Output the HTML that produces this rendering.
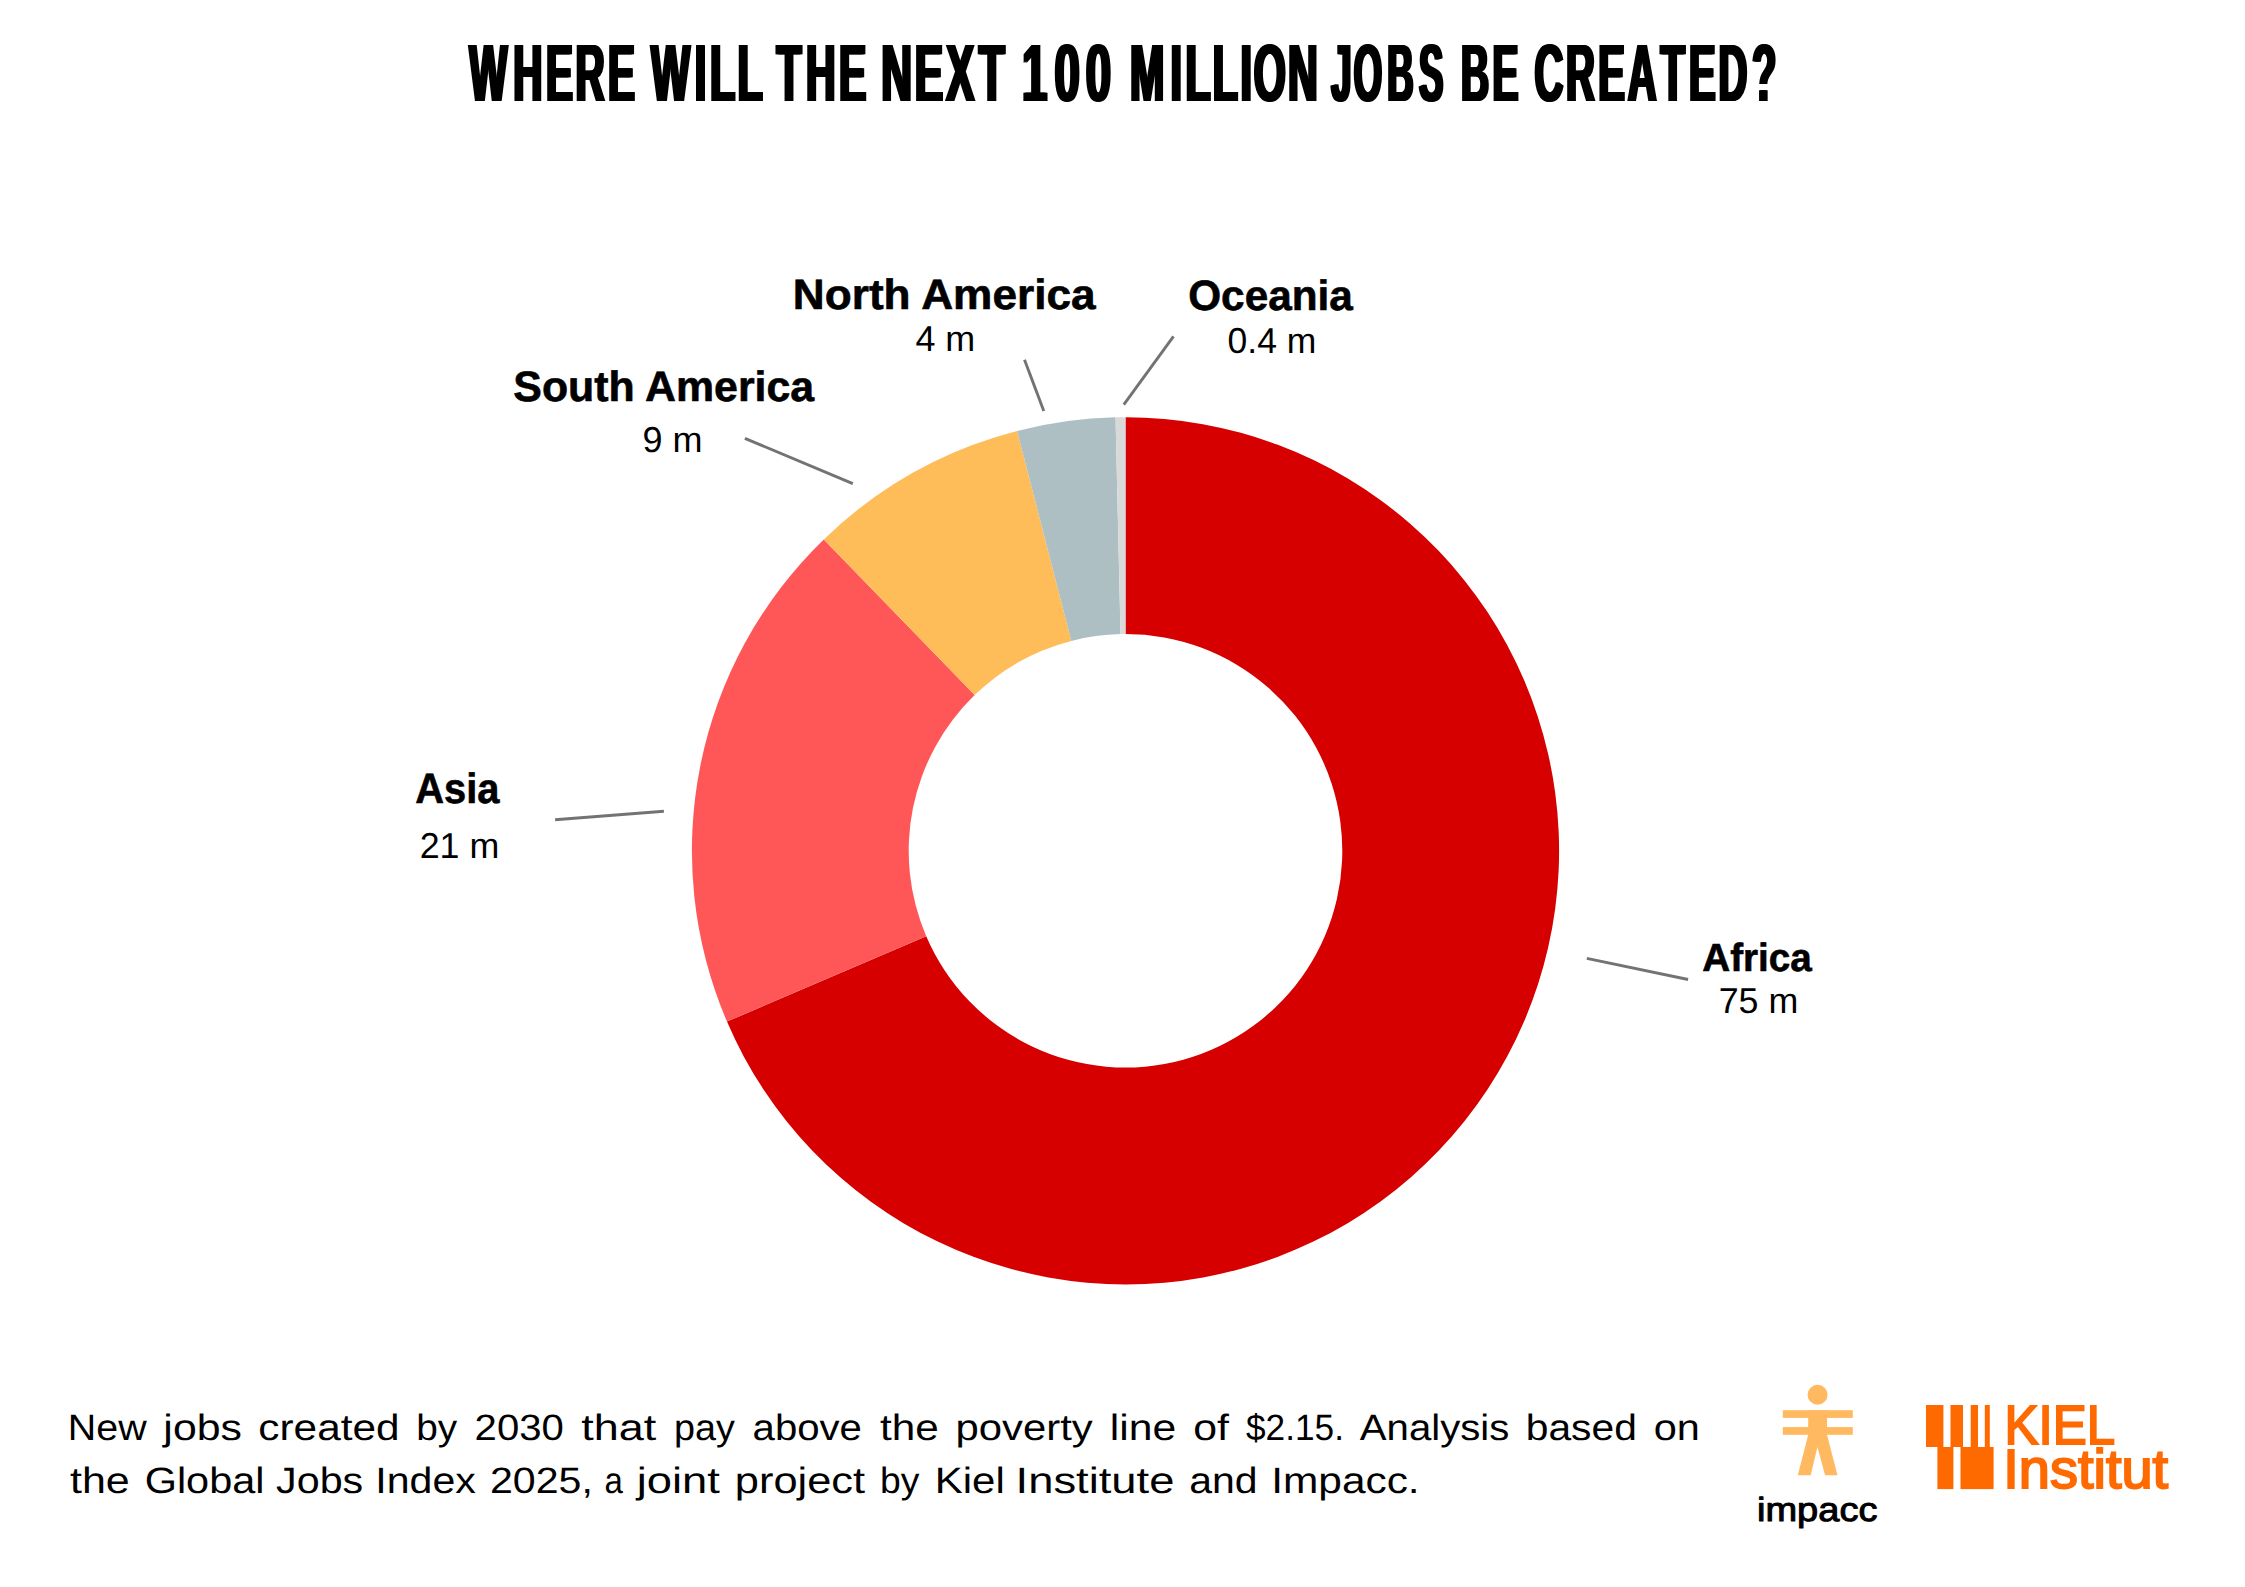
<!DOCTYPE html>
<html lang="en"><head><meta charset="utf-8"><title>Where will the next 100 million jobs be created?</title>
<style>html,body{margin:0;padding:0;background:#fff}svg{display:block}text{font-family:"Liberation Sans",sans-serif;text-rendering:geometricPrecision}</style></head>
<body>
<svg width="2245" height="1587" viewBox="0 0 2245 1587">
<rect width="2245" height="1587" fill="#fff"/>
<g id="donut">
<path fill="#d60000" d="M1125.5 417.2A433.6 433.6 0 1 1 726.961 1021.608L926.23 936.204A216.8 216.8 0 1 0 1125.5 634Z"/>
<path fill="#ff5757" d="M726.961 1021.608A433.6 433.6 0 0 1 823.779 539.394L974.64 695.097A216.8 216.8 0 0 0 926.23 936.204Z"/>
<path fill="#ffbd59" d="M823.779 539.394A433.6 433.6 0 0 1 1017.089 430.971L1071.295 640.886A216.8 216.8 0 0 0 974.64 695.097Z"/>
<path fill="#aebfc3" d="M1017.089 430.971A433.6 433.6 0 0 1 1115.54 417.314L1120.52 634.057A216.8 216.8 0 0 0 1071.295 640.886Z"/>
<path fill="#d9d9d9" d="M1115.54 417.314A433.6 433.6 0 0 1 1125.5 417.2L1125.5 634A216.8 216.8 0 0 0 1120.52 634.057Z"/>
</g>
<g stroke="#737373" stroke-width="2.9" stroke-linecap="butt" fill="none">
<line x1="744.9" y1="438.3" x2="852.8" y2="483.7"/>
<line x1="1024.5" y1="359.7" x2="1043.8" y2="411.1"/>
<line x1="1173.5" y1="336.3" x2="1123.8" y2="404.7"/>
<line x1="555.1" y1="819.7" x2="663.9" y2="811.2"/>
<line x1="1586.8" y1="958.4" x2="1688.1" y2="979.5"/>
</g>
<g font-weight="bold" fill="#000" stroke="#000" stroke-width="0.6">
<text font-size="42.4" transform="translate(513.292 400.7) scale(1.011 1)">South America</text>
<text font-size="42.4" transform="translate(792.828 308.75) scale(1.042 1)">North America</text>
<text font-size="42.4" transform="translate(1188.201 309.6) scale(0.998 1)">Oceania</text>
<text font-size="42.4" transform="translate(415.342 803.45) scale(0.94 1)">Asia</text>
<text font-size="39.2" transform="translate(1702.296 970.6) scale(0.986 1)">Africa</text>
</g>
<g font-size="36.0" fill="#000">
<text transform="translate(642.499 452.3) scale(1.001 1)">9 m</text>
<text transform="translate(915.4 350.9) scale(0.998 1)">4 m</text>
<text transform="translate(1227.615 352.8) scale(0.985 1)">0.4 m</text>
<text transform="translate(419.706 857.9) scale(0.994 1)">21 m</text>
<text transform="translate(1718.706 1012.9) scale(0.994 1)">75 m</text>
</g>
<g font-size="81.3" font-weight="bold" fill="#000" style="filter:drop-shadow(1.3px 0 0 #000) drop-shadow(-1.3px 0 0 #000)">
<text transform="translate(0 100.85) scale(0.497 1)" x="945.046 1033.52 1099.825 1159.033 1224.398">WHERE</text>
<text transform="translate(0 100.85) scale(0.509 1)" x="1280.055 1366.167 1395.696 1449.926">WILL</text>
<text transform="translate(0 100.85) scale(0.504 1)" x="1541.916 1600.263 1665.63">THE</text>
<text transform="translate(0 100.85) scale(0.524 1)" x="1682.509 1746.81 1806.541 1868.966">NEXT</text>
<text transform="translate(0 100.85) scale(0.56 1)" x="1825.724 1883.914 1939.572">100</text>
<text transform="translate(0 100.85) scale(0.507 1)" x="2230.029 2309.862 2339.179 2393.149 2447.927 2474.081 2541.199">MILLION</text>
<text transform="translate(0 100.85) scale(0.448 1)" x="2972.815 3022.963 3097.638 3168.787">JOBS</text>
<text transform="translate(0 100.85) scale(0.479 1)" x="3051.072 3116.684">BE</text>
<text transform="translate(0 100.85) scale(0.491 1)" x="3126.4 3190.197 3256.028 3316.007 3383.123 3440.842 3500.815 3569.089">CREATED?</text>
</g>
<g font-size="36.6" fill="#000">
<text transform="translate(67.769 1440.1) scale(1.077 1)">New</text>
<text transform="translate(163.37 1440.1) scale(1.17 1)">jobs</text>
<text transform="translate(258.343 1440.1) scale(1.157 1)">created</text>
<text transform="translate(416.279 1440.1) scale(1.06 1)">by</text>
<text transform="translate(474.604 1440.1) scale(1.096 1)">2030</text>
<text transform="translate(581.3 1440.1) scale(1.229 1)">that</text>
<text transform="translate(674.037 1440.1) scale(1.031 1)">pay</text>
<text transform="translate(752.603 1440.1) scale(1.097 1)">above</text>
<text transform="translate(880 1440.1) scale(1.155 1)">the</text>
<text transform="translate(955.513 1440.1) scale(1.144 1)">poverty</text>
<text transform="translate(1109.868 1440.1) scale(1.166 1)">line</text>
<text transform="translate(1193.13 1440.1) scale(1.17 1)">of</text>
<text transform="translate(1246 1440.1) scale(0.963 1)">$2.15.</text>
<text transform="translate(1359.8 1440.1) scale(1.098 1)">Analysis</text>
<text transform="translate(1525.772 1440.1) scale(1.114 1)">based</text>
<text transform="translate(1653.765 1440.1) scale(1.135 1)">on</text>
<text transform="translate(70 1492.9) scale(1.176 1)">the</text>
<text transform="translate(144.667 1492.9) scale(1.133 1)">Global</text>
<text transform="translate(276.1 1492.9) scale(1.127 1)">Jobs</text>
<text transform="translate(375.331 1492.9) scale(1.123 1)">Index</text>
<text transform="translate(489.976 1492.9) scale(1.124 1)">2025,</text>
<text transform="translate(604.5 1492.9) scale(0.9 1)">a</text>
<text transform="translate(636.639 1492.9) scale(1.239 1)">joint</text>
<text transform="translate(734.827 1492.9) scale(1.187 1)">project</text>
<text transform="translate(879.959 1492.9) scale(1.02 1)">by</text>
<text transform="translate(934.758 1492.9) scale(1.147 1)">Kiel</text>
<text transform="translate(1015.581 1492.9) scale(1.24 1)">Institute</text>
<text transform="translate(1189.18 1492.9) scale(1.12 1)">and</text>
<text transform="translate(1271.222 1492.9) scale(1.159 1)">Impacc.</text>
</g>
<g fill="#ffb960">
<circle cx="1817.6" cy="1394.8" r="10"/>
<rect x="1782.8" y="1410.2" width="70" height="7.7"/>
<rect x="1782.8" y="1427.1" width="70" height="7.7"/>
<path d="M1808.2 1410.2H1827V1434.8L1837.5 1475.2H1825.1L1817.4 1447.1L1810.7 1475.2H1797.8L1808.2 1434.8Z"/>
</g>
<text font-size="33.5" fill="#000" stroke="#000" stroke-width="1.0" stroke-linejoin="round" transform="translate(1756.998 1521.05) scale(1.135 1)">impacc</text>
<g fill="#ff6a00">
<rect x="1926" y="1405" width="17.4" height="42"/>
<rect x="1950.5" y="1405" width="12.5" height="42"/>
<rect x="1970.7" y="1405" width="7.3" height="42"/>
<rect x="1984.8" y="1405" width="5" height="42"/>
<rect x="1937.4" y="1447" width="16" height="42.1"/>
<rect x="1960.5" y="1447" width="33.1" height="42.1"/>
<text font-size="55.1" stroke="#ff6a00" stroke-width="2.0" transform="translate(2004.523 1443.9) scale(0.926 1)">KIEL</text>
<text font-size="55.1" stroke="#ff6a00" stroke-width="2.0" transform="translate(2003.237 1488.1) scale(1.016 1)">Institut</text>
</g>
</svg>
</body></html>
